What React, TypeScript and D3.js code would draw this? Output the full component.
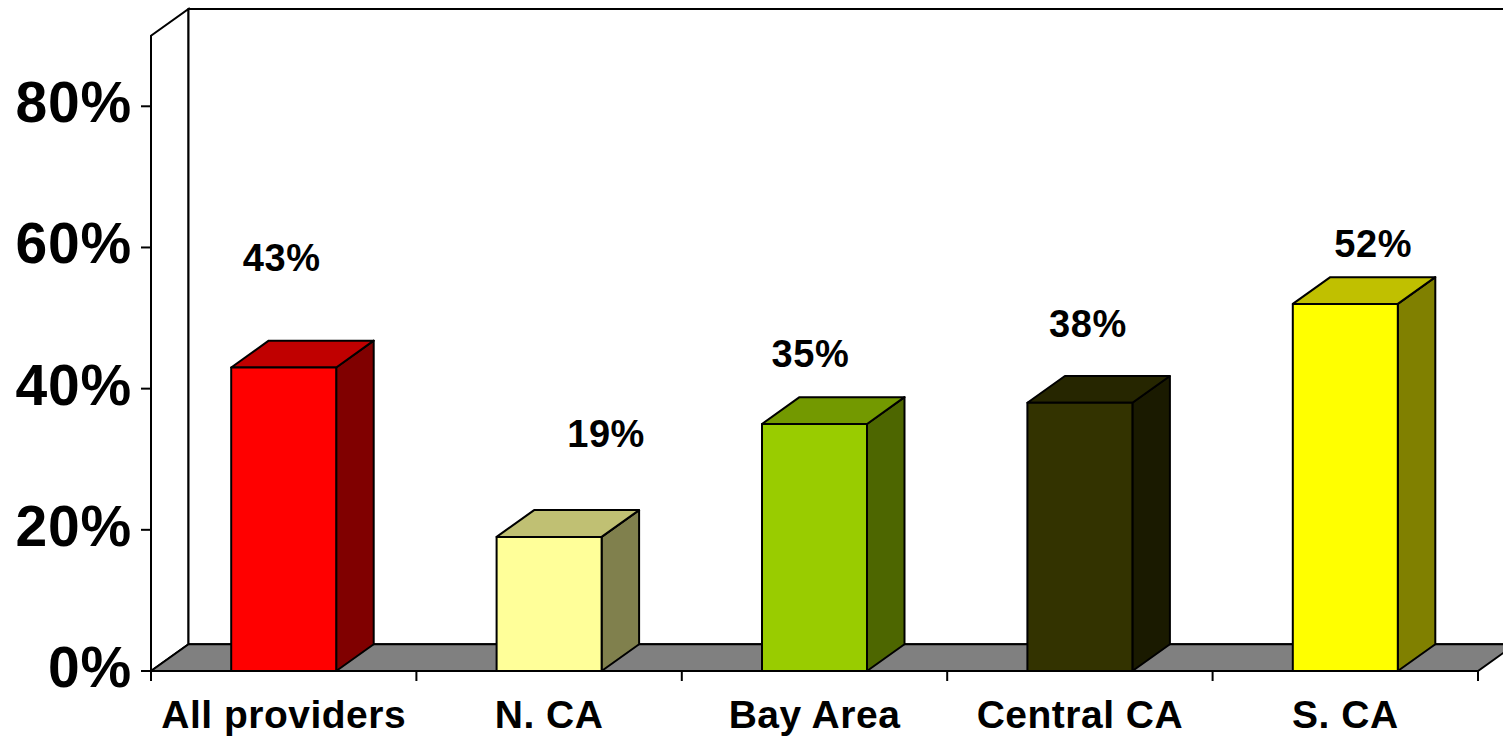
import React from "react";
import * as d3 from "d3";

const categories = ["All providers", "N. CA", "Bay Area", "Central CA", "S. CA"];
const values = [43, 19, 35, 38, 52];
const valueLabels = ["43%", "19%", "35%", "38%", "52%"];
const yTicks = [0, 20, 40, 60, 80];
const yTickLabels = ["0%", "20%", "40%", "60%", "80%"];

// styling / layout (not data)
const frontColors = ["#FF0000", "#FFFF99", "#99CC00", "#333300", "#FFFF00"];
const topColors = ["#C00000", "#C0C073", "#739900", "#262600", "#C0C000"];
const sideColors = ["#800000", "#80804D", "#4D6600", "#1A1A00", "#808000"];
const labelOffsets: [number, number][] = [
  [-2, -96],
  [57, -90],
  [-4, -57],
  [8, -66],
  [28, -47],
];

const W = 1503;
const H = 738;
const X0 = 151;
const X1 = 1478;
const Y0 = 671;
const YTOP = 35.7;
const DX = 37.5;
const DY = -26.8;
const BAR_W = 105;

export default function App() {
  const x = d3.scaleBand<string>().domain(categories).range([X0, X1]).paddingInner(0).paddingOuter(0);
  const y = d3.scaleLinear().domain([0, 90]).range([Y0, YTOP]);
  const bw = x.bandwidth();
  const font = "'Liberation Sans', Arial, sans-serif";
  const pts = (p: [number, number][]) => p.map((q) => q.join(",")).join(" ");

  return (
    <svg width={W} height={H} style={{ position: "absolute", left: 0, top: 0, background: "#fff" }}>
      {/* left wall */}
      <polygon
        points={pts([[X0, Y0], [X0, YTOP], [X0 + DX, YTOP + DY], [X0 + DX, Y0 + DY]])}
        fill="#fff"
        stroke="#000"
        strokeWidth={2}
      />
      {/* back wall */}
      <polygon
        points={pts([[X0 + DX, Y0 + DY], [X0 + DX, YTOP + DY], [X1 + DX, YTOP + DY], [X1 + DX, Y0 + DY]])}
        fill="#fff"
        stroke="#000"
        strokeWidth={2}
      />
      {/* floor */}
      <polygon
        points={pts([[X0, Y0], [X1, Y0], [X1 + DX, Y0 + DY], [X0 + DX, Y0 + DY]])}
        fill="#808080"
        stroke="#000"
        strokeWidth={2}
      />
      {/* bars */}
      {categories.map((c, i) => {
        const cx = (x(c) as number) + bw / 2;
        const l = cx - BAR_W / 2;
        const r = cx + BAR_W / 2;
        const t = y(values[i]);
        return (
          <g key={c} stroke="#000" strokeWidth={2} strokeLinejoin="round">
            <polygon points={pts([[r, Y0], [r, t], [r + DX, t + DY], [r + DX, Y0 + DY]])} fill={sideColors[i]} />
            <polygon points={pts([[l, t], [r, t], [r + DX, t + DY], [l + DX, t + DY]])} fill={topColors[i]} />
            <rect x={l} y={t} width={BAR_W} height={Y0 - t} fill={frontColors[i]} />
          </g>
        );
      })}
      {/* y axis */}
      <line x1={X0} y1={Y0} x2={X0} y2={YTOP} stroke="#000" strokeWidth={2} />
      {yTicks.map((v, i) => (
        <g key={v}>
          <line x1={X0 - 10} x2={X0} y1={y(v)} y2={y(v)} stroke="#000" strokeWidth={2} />
          <text
            x={132}
            y={y(v) + 16}
            textAnchor="end"
            fontFamily={font}
            fontWeight="bold"
            fontSize={57}
            letterSpacing={0.8}
            fill="#000"
          >
            {yTickLabels[i]}
          </text>
        </g>
      ))}
      {/* x axis */}
      <line x1={X0} x2={X1} y1={Y0} y2={Y0} stroke="#000" strokeWidth={2} />
      {d3.range(categories.length + 1).map((i) => {
        const xx = X0 + i * bw;
        return <line key={i} x1={xx} x2={xx} y1={Y0} y2={Y0 + 10} stroke="#000" strokeWidth={2} />;
      })}
      {categories.map((c) => (
        <text
          key={c}
          x={(x(c) as number) + bw / 2}
          y={728}
          textAnchor="middle"
          fontFamily={font}
          fontWeight="bold"
          fontSize={39}
          letterSpacing={0.5}
          fill="#000"
        >
          {c}
        </text>
      ))}
      {/* value labels */}
      {categories.map((c, i) => (
        <text
          key={"l" + c}
          x={(x(c) as number) + bw / 2 + labelOffsets[i][0]}
          y={y(values[i]) + labelOffsets[i][1]}
          textAnchor="middle"
          fontFamily={font}
          fontWeight="bold"
          fontSize={38}
          letterSpacing={0.6}
          fill="#000"
        >
          {valueLabels[i]}
        </text>
      ))}
    </svg>
  );
}
